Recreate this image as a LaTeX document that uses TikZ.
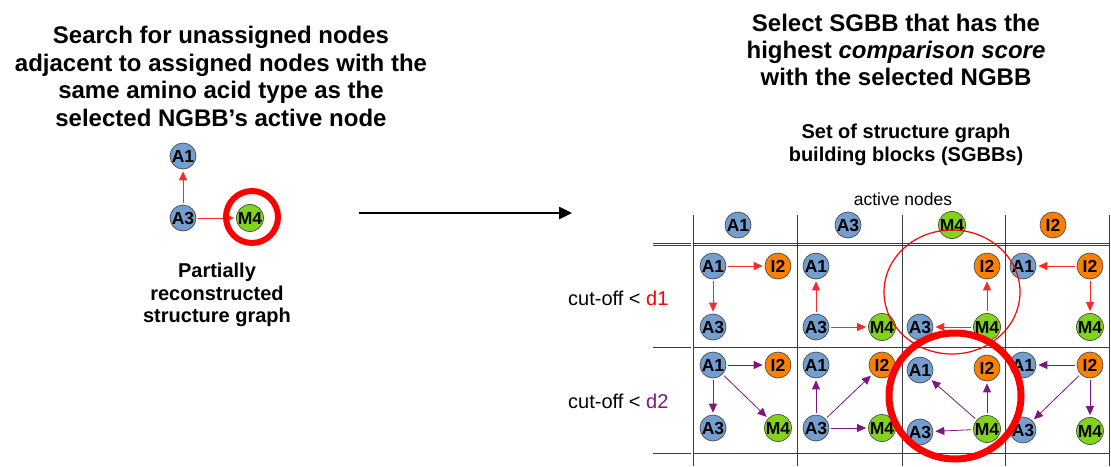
\documentclass[tikz,border=0pt]{standalone}
\usepackage{fontspec}
\setmainfont{Liberation Sans}
\usetikzlibrary{arrows.meta,shapes.geometric}

\definecolor{nblue}{RGB}{114,159,207}
\definecolor{norange}{RGB}{255,128,0}
\definecolor{ngreen}{RGB}{129,212,26}
\definecolor{ared}{RGB}{255,40,40}
\definecolor{apurple}{RGB}{128,20,128}
\definecolor{gridc}{RGB}{60,60,60}

\tikzset{
  nd/.style={circle, draw=black!70, line width=0.7pt, minimum size=26pt, inner sep=0pt,
    font=\bfseries\fontsize{17.5}{17.5}\selectfont},
  blu/.style={nd, fill=nblue},
  org/.style={nd, fill=norange},
  grn/.style={nd, fill=ngreen},
  rar/.style={draw=ared, line width=0.9pt, -{Triangle[length=9pt,width=8pt]},
    shorten >=2pt, shorten <=2pt},
  par/.style={draw=apurple, line width=0.8pt, -{Triangle[length=9pt,width=8pt]},
    shorten >=2pt, shorten <=2pt},
  ttl/.style={inner sep=0pt, anchor=base, font=\bfseries\fontsize{24}{28}\selectfont},
  sub/.style={inner sep=0pt, anchor=base, font=\bfseries\fontsize{20}{23}\selectfont},
  lbl/.style={inner sep=0pt, anchor=base west, font=\fontsize{20}{23}\selectfont},
  gline/.style={draw=gridc, line width=0.8pt},
  dline/.style={draw=gridc, line width=0.7pt, double=white, double distance=1.6pt},
  bigarrow/.style={draw=black, line width=2.5pt, -{Triangle[length=13pt,width=12pt]}},
}

\begin{document}
\begin{tikzpicture}[x=1pt,y=-1pt]
\useasboundingbox (0,0) rectangle (1111,466);

% ---- left: search step ----
\node[ttl] (lt1) at (221,43)  {Search for unassigned nodes};
\node[ttl] (lt2) at (221,71)  {adjacent to assigned nodes with the};
\node[ttl] (lt3) at (221,98)  {same amino acid type as the};
\node[ttl] (lt4) at (221,126) {selected NGBB’s active node};

\node[blu] (pA1) at (183,156) {A1};
\node[blu] (pA3) at (183,218) {A3};
\node[grn] (pM4) at (250,218) {M4};
\draw[rar] (pA3) -- (pA1);
\draw[rar] (pA3) -- (pM4);
\node[circle, draw=red, line width=6pt, minimum size=52pt, inner sep=0pt] (psel) at (252,217) {};

\node[sub] (pc1) at (217,277) {Partially};
\node[sub] (pc2) at (217,300) {reconstructed};
\node[sub] (pc3) at (217,322) {structure graph};

% ---- transition arrow ----
\coordinate (ga) at (359,213);
\coordinate (gb) at (572,213);
\draw[bigarrow] (ga) -- (gb);

% ---- right: selection step ----
\node[ttl] (rt1) at (896,31) {Select SGBB that has the};
\node[ttl] (rt2) at (896,58) {highest \textit{comparison score}};
\node[ttl] (rt3) at (896,85) {with the selected NGBB};

\node[sub] (st1) at (906,138) {Set of structure graph};
\node[sub] (st2) at (906,161) {building blocks (SGBBs)};

\node[inner sep=0pt, anchor=base, font=\fontsize{17.5}{20}\selectfont] (act) at (903,205) {active nodes};

\node[lbl] (cut1) at (568,305) {cut-off < \textcolor{red}{d1}};
\node[lbl] (cut2) at (568,408) {cut-off < \textcolor{apurple}{d2}};

% table grid
\draw[dline] (653,244.5) -- (1109,244.5);
\draw[gline] (653,347) -- (1109,347);
\draw[gline] (653,453) -- (1109,453);
\draw[dline] (692,215) -- (692,466);
\foreach \gx in {797,902,1005,1109}
  \draw[gline] (\gx,215) -- (\gx,466);

% header: active nodes
\node[blu] (hA1) at (738,225)  {A1};
\node[blu] (hA3) at (848,225)  {A3};
\node[grn] (hM4) at (952,225)  {M4};
\node[org] (hI2) at (1053,225) {I2};

% row d1, column A1
\node[blu] (aA1) at (713,266) {A1};
\node[org] (aI2) at (778,266) {I2};
\node[blu] (aA3) at (713,327) {A3};
\draw[rar] (aA1) -- (aI2);
\draw[rar] (aA1) -- (aA3);
% row d1, column A3
\node[blu] (bA1) at (816,266) {A1};
\node[blu] (bA3) at (816,327) {A3};
\node[grn] (bM4) at (882,327) {M4};
\draw[rar] (bA3) -- (bA1);
\draw[rar] (bA3) -- (bM4);
% row d1, column M4
\node[org] (cI2) at (987,266) {I2};
\node[blu] (cA3) at (920,327) {A3};
\node[grn] (cM4) at (987,327) {M4};
\draw[rar] (cM4) -- (cI2);
\draw[rar] (cM4) -- (cA3);
% row d1, column I2
\node[blu] (dA1) at (1023,266) {A1};
\node[org] (dI2) at (1090,266) {I2};
\node[grn] (dM4) at (1090,327) {M4};
\draw[rar] (dI2) -- (dA1);
\draw[rar] (dI2) -- (dM4);

% row d2, column A1
\node[blu] (eA1) at (713,365) {A1};
\node[org] (eI2) at (778,365) {I2};
\node[blu] (eA3) at (713,428) {A3};
\node[grn] (eM4) at (778,428) {M4};
\draw[par] (eA1) -- (eI2);
\draw[par] (eA1) -- (eA3);
\draw[par] (eA1) -- (eM4);
% row d2, column A3
\node[blu] (fA1) at (816,365) {A1};
\node[org] (fI2) at (882,365) {I2};
\node[blu] (fA3) at (816,428) {A3};
\node[grn] (fM4) at (882,428) {M4};
\draw[par] (fA3) -- (fA1);
\draw[par] (fA3) -- (fI2);
\draw[par] (fA3) -- (fM4);
% row d2, column M4
\node[blu] (gA1) at (920,370) {A1};
\node[org] (gI2) at (987,368) {I2};
\node[blu] (gA3) at (920,432) {A3};
\node[grn] (gM4) at (987,429) {M4};
\draw[par] (gM4) -- (gA1);
\draw[par] (gM4) -- (gI2);
\draw[par] (gM4) -- (gA3);
% row d2, column I2
\node[blu] (hhA1) at (1023,365) {A1};
\node[org] (hhI2) at (1090,365) {I2};
\node[blu] (hhA3) at (1023,430) {A3};
\node[grn] (hhM4) at (1090,431) {M4};
\draw[par] (hhI2) -- (hhA1);
\draw[par] (hhI2) -- (hhA3);
\draw[par] (hhI2) -- (hhM4);

% highlight circles
\node[ellipse, draw=red, line width=1.2pt, minimum width=136pt, minimum height=124pt, inner sep=0pt] (hl1) at (952,292) {};
\node[ellipse, draw=red, line width=7pt, minimum width=132pt, minimum height=126pt, inner sep=0pt] (hl2) at (955,396) {};
\end{tikzpicture}
\end{document}
